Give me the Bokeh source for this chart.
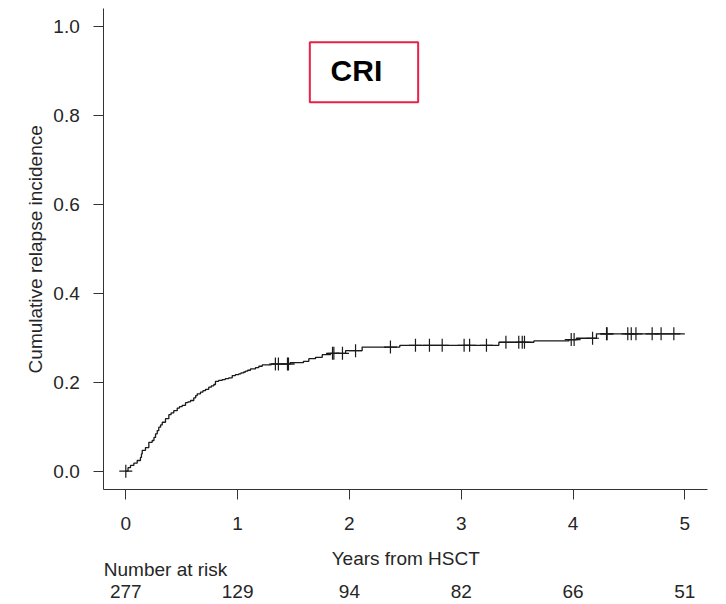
import numpy as np
from bokeh.plotting import figure
from bokeh.models import FixedTicker, Label, BoxAnnotation, Range1d
from bokeh.embed import file_html
from bokeh.resources import INLINE

# ---- data ----
event_times = [0.02, 0.042, 0.072, 0.102, 0.131, 0.140, 0.147, 0.176, 0.206, 0.236,
               0.252, 0.266, 0.281, 0.295, 0.311, 0.326, 0.355, 0.385, 0.405, 0.429,
               0.460, 0.480, 0.504, 0.534, 0.556, 0.579, 0.608, 0.625, 0.639, 0.668,
               0.690, 0.713, 0.742, 0.765, 0.787, 0.802, 0.830, 0.862, 0.890, 0.921,
               0.952, 0.980, 1.011, 1.030, 1.055, 1.071, 1.090, 1.115, 1.160, 1.190,
               1.220, 1.300, 1.470, 1.589, 1.637, 1.697, 1.757, 1.831, 1.966, 2.114,
               2.451, 3.337, 3.650, 3.963, 4.030, 4.210]
cum_incidence = [0.008, 0.013, 0.018, 0.024, 0.031, 0.039, 0.047, 0.053, 0.065, 0.069,
                 0.076, 0.084, 0.091, 0.099, 0.104, 0.110, 0.118, 0.127, 0.131, 0.136,
                 0.142, 0.145, 0.148, 0.154, 0.156, 0.159, 0.165, 0.170, 0.174, 0.178,
                 0.181, 0.184, 0.189, 0.192, 0.195, 0.202, 0.204, 0.206, 0.208, 0.210,
                 0.215, 0.217, 0.219, 0.221, 0.223, 0.225, 0.227, 0.230, 0.233, 0.236,
                 0.239, 0.241, 0.244, 0.247, 0.253, 0.256, 0.262, 0.265, 0.271, 0.279,
                 0.283, 0.290, 0.293, 0.296, 0.299, 0.309]
end_time = 5.0
censor_times = [0.0, 1.338, 1.365, 1.446, 1.455, 1.849, 1.861, 1.938, 2.055, 2.367,
                2.591, 2.716, 2.830, 3.026, 3.075, 3.226, 3.400, 3.515, 3.546, 3.566,
                3.984, 4.010, 4.175, 4.300, 4.305, 4.490, 4.521, 4.563, 4.708, 4.788, 4.902]
x_ticks = [0, 1, 2, 3, 4, 5]
x_tick_labels = ["0", "1", "2", "3", "4", "5"]
y_ticks = [0.0, 0.2, 0.4, 0.6, 0.8, 1.0]
y_tick_labels = ["0.0", "0.2", "0.4", "0.6", "0.8", "1.0"]
at_risk_times = [0, 1, 2, 3, 4, 5]
at_risk_counts = ["277", "129", "94", "82", "66", "51"]
x_title = "Years from HSCT"
y_title = "Cumulative relapse incidence"
risk_title = "Number at risk"
panel_title = "CRI"

FONT = "Liberation Sans"
TXT = "#262626"
FS = "19px"

# axis extents (where the L-shaped axes are drawn)
AX_XMIN, AX_XMAX = -0.197, 5.205
AX_YMIN, AX_YMAX = -0.0418, 1.0398
# the frame covers the whole canvas so that the risk table is not clipped
p = figure(width=726, height=604, output_backend="svg", toolbar_location=None,
           x_range=Range1d(-1.1208, 5.3730), y_range=Range1d(-0.2998, 1.0585),
           min_border_left=0, min_border_right=0, min_border_top=0,
           min_border_bottom=0)
p.outline_line_color = None
p.grid.visible = False
p.background_fill_color = "white"
p.border_fill_color = "white"

for ax in (p.xaxis[0], p.yaxis[0]):
    ax.axis_line_color = "#333333"
    ax.axis_line_width = 1
    ax.major_tick_line_color = "#333333"
    ax.major_tick_in = 0
    ax.major_tick_out = 10
    ax.minor_tick_line_color = None
    ax.major_label_text_font = FONT
    ax.major_label_text_font_size = FS
    ax.major_label_text_color = TXT

p.xaxis.ticker = FixedTicker(ticks=x_ticks)
p.xaxis.major_label_overrides = {t: l for t, l in zip(x_ticks, x_tick_labels)}
p.xaxis.major_label_standoff = 17
p.xaxis.fixed_location = AX_YMIN
p.xaxis.bounds = (AX_XMIN, AX_XMAX)

p.yaxis.ticker = FixedTicker(ticks=y_ticks)
p.yaxis.major_label_overrides = {t: l for t, l in zip(y_ticks, y_tick_labels)}
p.yaxis.major_label_standoff = 14
p.yaxis.fixed_location = AX_XMIN
p.yaxis.bounds = (AX_YMIN, AX_YMAX)

# axis titles
p.add_layout(Label(x=(AX_XMIN + AX_XMAX) / 2, y=-0.1974, text=x_title,
                   text_align="center", text_baseline="middle", text_font=FONT,
                   text_font_size=FS, text_color=TXT))
p.add_layout(Label(x=-0.8077, y=(AX_YMIN + AX_YMAX) / 2, text=y_title,
                   angle=np.pi / 2, text_align="center", text_baseline="middle",
                   text_font=FONT, text_font_size=FS, text_color=TXT))

# step curve
xs = np.concatenate([[0.0], np.array(event_times), [end_time]])
ys = np.concatenate([[0.0], np.array(cum_incidence), [cum_incidence[-1]]])
p.step(xs, ys, mode="after", line_color="#1a1a1a", line_width=1.3)

# censor marks
ct = np.array(censor_times)
idx = np.searchsorted(np.array(event_times), ct, side="right")
cy = np.concatenate([[0.0], np.array(cum_incidence)])[idx]
p.scatter(ct, cy, marker="cross", size=13, line_color="#1a1a1a", line_width=1.2)

# CRI box
box = BoxAnnotation(left=1.646, right=2.615, bottom=0.8298, top=0.9647,
                    fill_color="white", fill_alpha=1.0,
                    line_color="#e8214a", line_alpha=1.0, line_width=2)
p.add_layout(box)
p.add_layout(Label(x=2.063, y=0.9020, text=panel_title, text_align="center",
                   text_baseline="middle", text_font=FONT,
                   text_font_size="30px", text_font_style="bold",
                   text_color="black"))

# number at risk
p.add_layout(Label(x=AX_XMIN, y=-0.2219, text=risk_title, text_align="left",
                   text_baseline="middle", text_font=FONT,
                   text_font_size=FS, text_color=TXT))
for t, n in zip(at_risk_times, at_risk_counts):
    p.add_layout(Label(x=t, y=-0.2714, text=n, text_align="center",
                       text_baseline="middle", text_font=FONT,
                       text_font_size=FS, text_color=TXT))

open("out.html", "w").write(file_html(p, INLINE))
